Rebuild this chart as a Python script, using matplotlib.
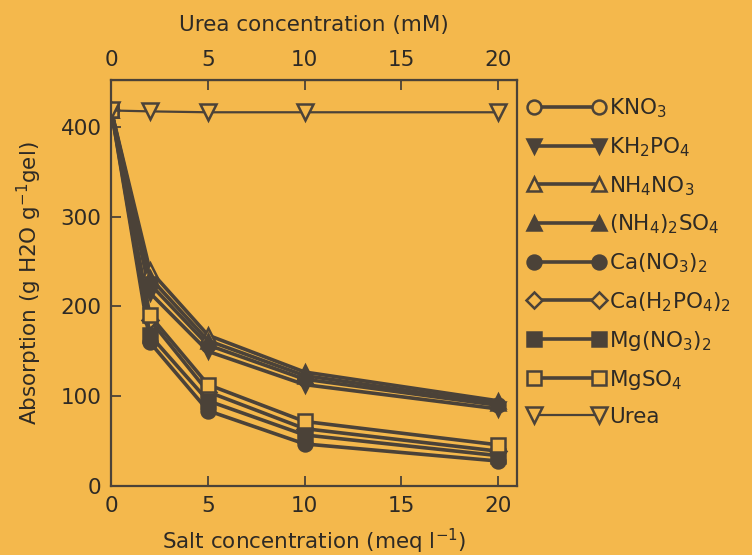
import matplotlib.pyplot as plt
import numpy as np

bg = '#f4b84c'
ink = '#4b4238'
txt = '#2e2a25'

# salt concentration (meq l-1)
salt_x = [0, 2, 5, 10, 20]
# urea concentration (mM)
urea_x = [0, 2, 5, 10, 20]

kno3 = [418, 225, 157, 119, 90]
kh2po4 = [418, 215, 150, 113, 86]
nh4no3 = [418, 240, 168, 127, 95]
nh4_2so4 = [418, 232, 162, 123, 92]
ca_no3_2 = [418, 160, 84, 47, 28]
ca_h2po4_2 = [418, 185, 105, 64, 39]
mg_no3_2 = [418, 168, 95, 57, 34]
mgso4 = [418, 190, 113, 72, 46]
urea = [418, 417, 416, 416, 416]

series = [
    (kno3, 'o', False, 'KNO$_3$'),
    (kh2po4, 'v', True, 'KH$_2$PO$_4$'),
    (nh4no3, '^', False, 'NH$_4$NO$_3$'),
    (nh4_2so4, '^', True, '(NH$_4$)$_2$SO$_4$'),
    (ca_no3_2, 'o', True, 'Ca(NO$_3$)$_2$'),
    (ca_h2po4_2, 'D', False, 'Ca(H$_2$PO$_4$)$_2$'),
    (mg_no3_2, 's', True, 'Mg(NO$_3$)$_2$'),
    (mgso4, 's', False, 'MgSO$_4$'),
]

plt.rcParams['font.family'] = 'DejaVu Sans'
fig = plt.figure(figsize=(7.52, 5.55), dpi=100, facecolor=bg)
ax = fig.add_axes([0.148, 0.124, 0.540, 0.732], facecolor=bg)

for vals, m, filled, lab in series:
    ms = 8 if m == 'D' else 10
    ax.plot(salt_x, vals, color=ink, lw=2.6, marker=m, ms=ms,
            mfc=ink if filled else bg, mec=ink, mew=1.8, label=lab)
ax.plot(urea_x, urea, color=ink, lw=1.6, marker='v', ms=11,
        mfc=bg, mec=ink, mew=1.8, label='Urea')

ax.set_xlim(0, 21)
ax.set_ylim(0, 452)
ax.set_xticks([0, 5, 10, 15, 20])
ax.set_yticks([0, 100, 200, 300, 400])
ax.tick_params(direction='in', length=7, width=1.3, colors=ink,
               labelsize=15.5, labelcolor=txt, pad=7)
for s in ax.spines.values():
    s.set_color(ink)
    s.set_linewidth(1.6)

ax.set_xlabel('Salt concentration (meq l$^{-1}$)', fontsize=15.5, color=txt, labelpad=8)
ax.set_ylabel('Absorption (g H2O g$^{-1}$gel)', fontsize=15.5, color=txt, labelpad=12)

top = ax.secondary_xaxis('top')
top.set_xticks([0, 5, 10, 15, 20])
top.tick_params(direction='in', length=7, width=1.3, colors=ink,
                labelsize=15.5, labelcolor=txt, pad=7)
top.set_xlabel('Urea concentration (mM)', fontsize=15.5, color=txt, labelpad=14)

leg = ax.legend(loc='upper left', bbox_to_anchor=(1.005, 0.98), numpoints=2,
                frameon=False, fontsize=15.5, handlelength=3.6, handletextpad=0.15,
                labelspacing=0.7, borderaxespad=0, labelcolor=txt)

fig.savefig('out.png', dpi=100, facecolor=bg)
